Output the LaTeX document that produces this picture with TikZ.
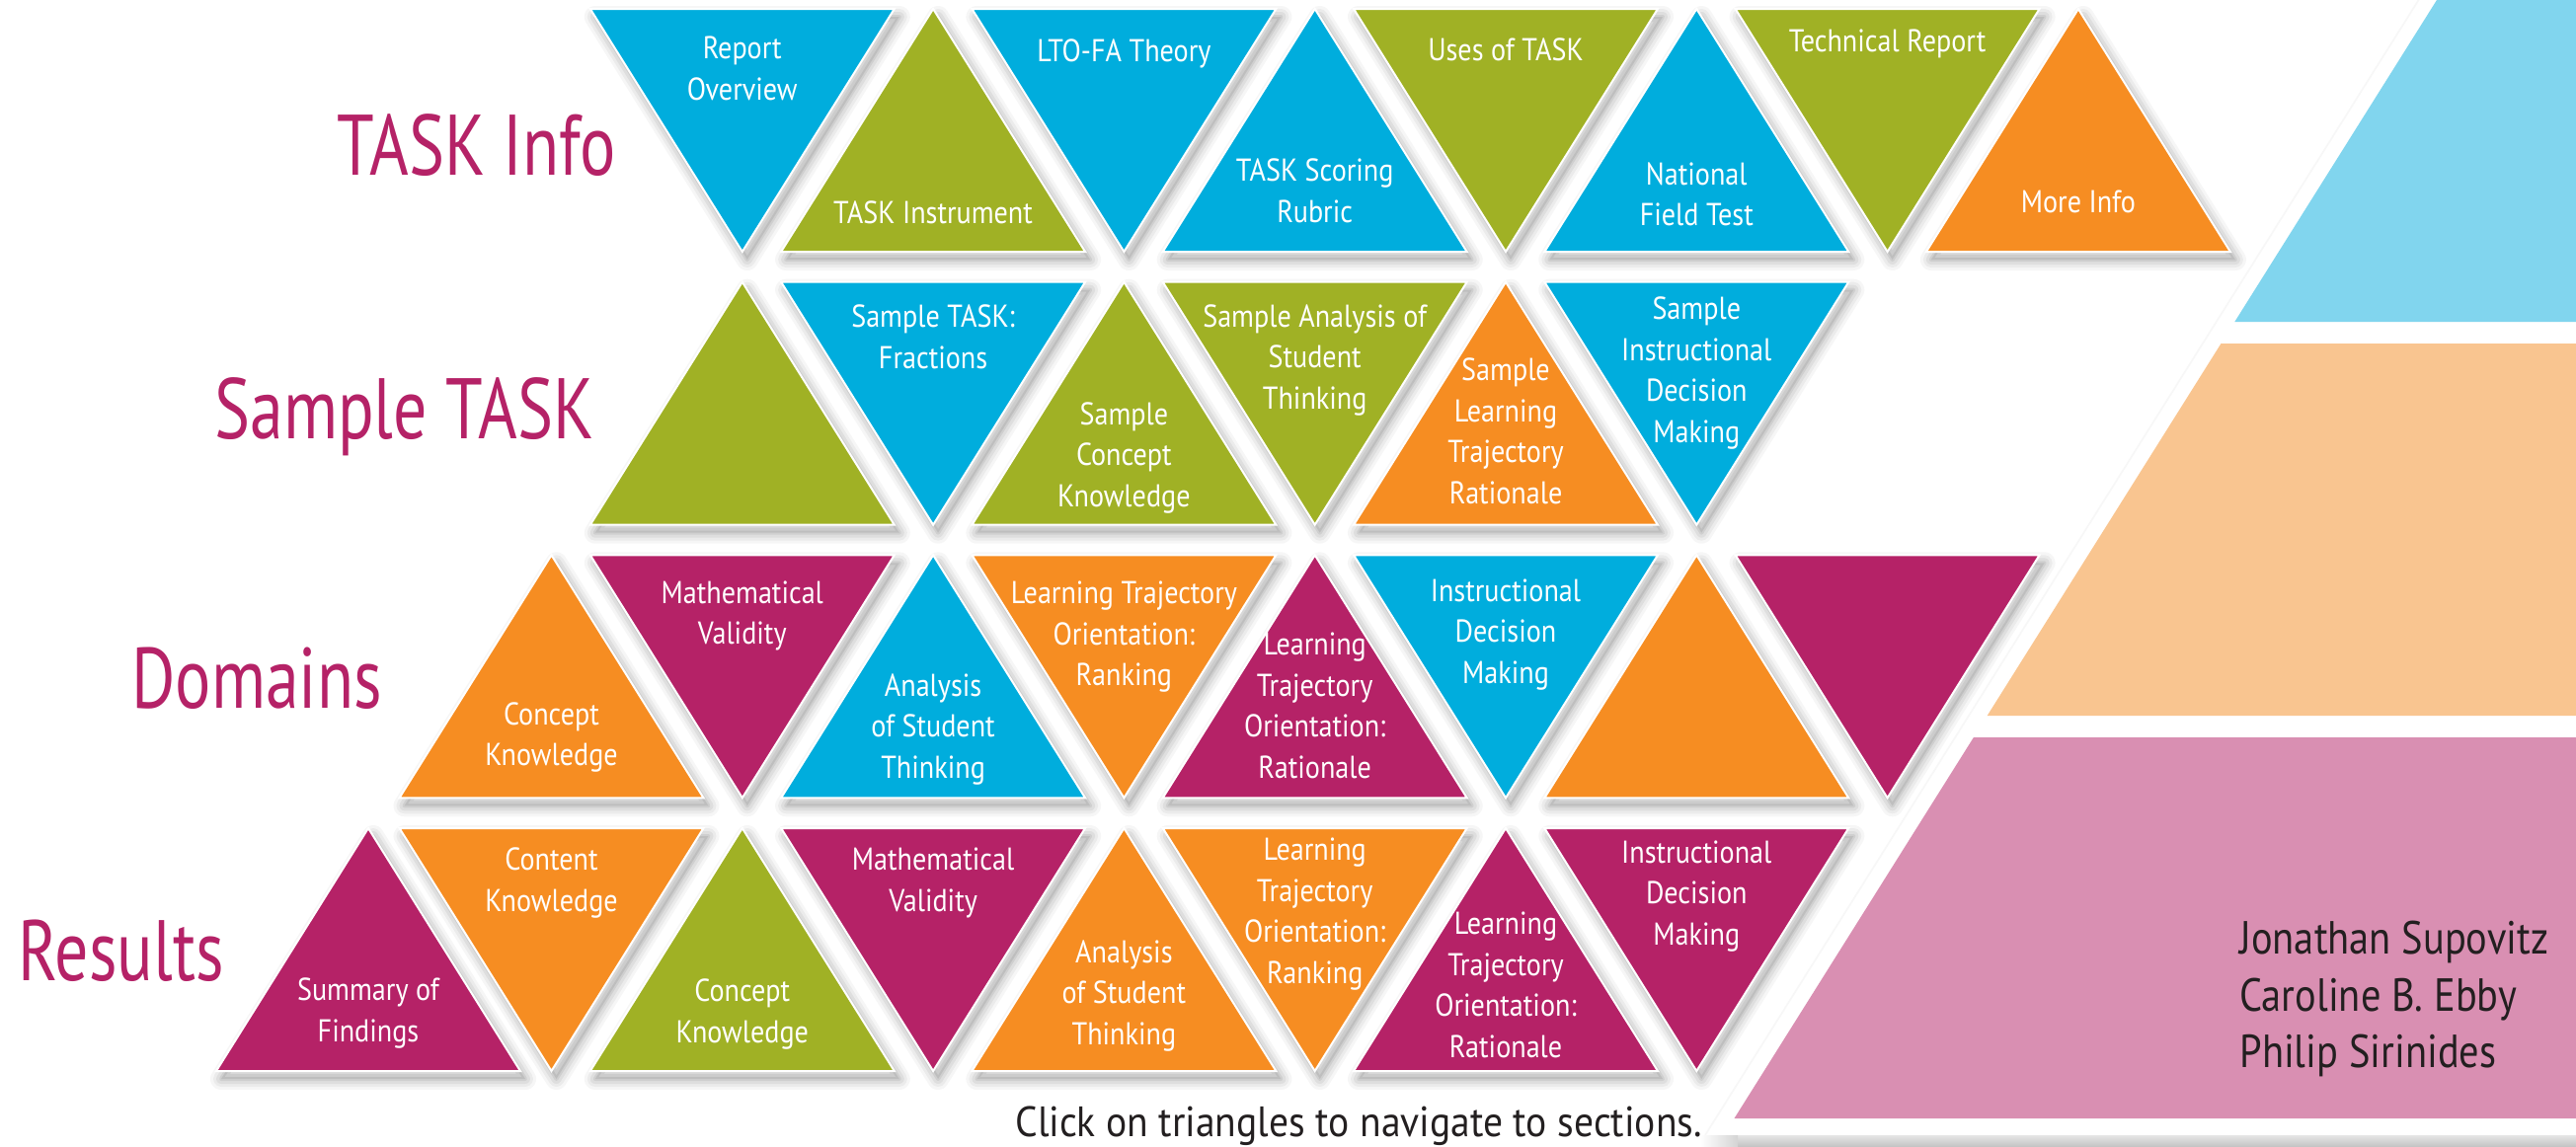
\documentclass[tikz,border=0pt]{standalone}
\usepackage{fontspec}
\setmainfont{PT Sans}
\newfontfamily\trifam[FakeStretch=0.88]{PT Sans}
\newfontfamily\labfam[FakeStretch=0.78]{PT Sans}
\newfontfamily\authfam[FakeStretch=0.86]{PT Sans}
\newfontfamily\clickfam[FakeStretch=0.92]{PT Sans}
\definecolor{cblue}{RGB}{0,173,221}
\definecolor{cgreen}{RGB}{160,177,37}
\definecolor{corange}{RGB}{246,141,34}
\definecolor{cmag}{RGB}{181,34,103}
\definecolor{plblue}{RGB}{129,213,238}
\definecolor{plorange}{RGB}{249,197,144}
\definecolor{plpink}{RGB}{217,143,178}
\definecolor{darktext}{RGB}{35,31,32}
\pgfdeclarelayer{back}
\pgfdeclarelayer{bg}
\pgfsetlayers{back,bg,main}
\tikzset{
  tri/.style={draw=white, line width=1pt, line join=miter},
  tritext/.style={text=white, align=center, inner sep=0pt,
    font=\trifam\fontsize{16}{20.75}\selectfont,
    execute at begin node=\strut, execute at end node=\strut},
  lab/.style={text=cmag, inner sep=0pt, font=\labfam\fontsize{43.5}{50}\selectfont},
  shadowring/.style={draw=black, line join=round, fill=none}
}
% soft shadow of a closed path given as #1 (drawn on the bg layer, shifted)
\newcommand{\SoftShadow}[1]{%
  \begin{pgfonlayer}{bg}
    \begin{scope}[shift={(5,8)}]
      \draw[shadowring, line width=11pt, opacity=0.035] #1;
      \draw[shadowring, line width=8pt, opacity=0.045] #1;
      \draw[shadowring, line width=5pt, opacity=0.055] #1;
      \draw[shadowring, line width=2pt, opacity=0.065] #1;
      \fill[black, opacity=0.08] #1;
    \end{scope}
  \end{pgfonlayer}
}
% #1 name, #2 cx, #3 top, #4 colour, #5 text y, #6 text
\newcommand{\TriUp}[6]{%
  \SoftShadow{(#2,#3) -- ({#2+154},{#3+246}) -- ({#2-154},{#3+246}) -- cycle}
  \filldraw[tri, fill=#4] (#2,#3) -- ({#2+154},{#3+246}) -- ({#2-154},{#3+246}) -- cycle;
  \node[tritext] (#1) at (#2,{#5+3}) {#6};
}
\newcommand{\TriDown}[6]{%
  \SoftShadow{({#2-154},#3) -- ({#2+154},#3) -- (#2,{#3+246}) -- cycle}
  \filldraw[tri, fill=#4] ({#2-154},#3) -- ({#2+154},#3) -- (#2,{#3+246}) -- cycle;
  \node[tritext] (#1) at (#2,{#5+3}) {#6};
}
\newcommand{\TriUpEmpty}[3]{%
  \SoftShadow{(#1,#2) -- ({#1+154},{#2+246}) -- ({#1-154},{#2+246}) -- cycle}
  \filldraw[tri, fill=#3] (#1,#2) -- ({#1+154},{#2+246}) -- ({#1-154},{#2+246}) -- cycle;
}
\newcommand{\TriDownEmpty}[3]{%
  \SoftShadow{({#1-154},#2) -- ({#1+154},#2) -- (#1,{#2+246}) -- cycle}
  \filldraw[tri, fill=#3] ({#1-154},#2) -- ({#1+154},#2) -- (#1,{#2+246}) -- cycle;
}
\begin{document}
\begin{tikzpicture}[x=0.5pt, y=-0.5pt]
\useasboundingbox (0,0) rectangle (2609,1162);
\begin{pgfonlayer}{back}
  \fill[white] (0,0) rectangle (2609,1162);
  % faint edge and bottom shadow of the white card behind the right-hand panels
  \draw[black!3, line width=0.8pt] (1727,1150) -- (2459,-15);
  \shade[top color=black!10, bottom color=black!24] (1738,1150) rectangle (2609,1162);
  \shade[left color=white, right color=black!17] (1722,1150) rectangle (1760,1162);
\end{pgfonlayer}

% right-hand panels
\fill[plblue] (2468,0) -- (2609,0) -- (2609,326) -- (2263.3,326) -- cycle;
\fill[plorange] (2249.5,348) -- (2609,348) -- (2609,725) -- (2012.7,725) -- cycle;
\fill[plpink] (1998.9,747) -- (2609,747) -- (2609,1133) -- (1756.5,1133) -- cycle;

% row labels
\node[lab, anchor=base west] (lInfo) at (341,177) {TASK Info};
\node[lab, anchor=base west] (lSample) at (217,444) {Sample TASK};
\node[lab, anchor=base west] (lDomains) at (133,717) {Domains};
\node[lab, anchor=base west] (lResults) at (18,993) {Results};

% row 1 : TASK Info (top 9)
\TriDown{r1a}{751.8}{9}{cblue}{72.5}{Report\\Overview}
\TriUp{r1b}{945.1}{9}{cgreen}{215.5}{TASK Instrument}
\TriDown{r1c}{1138.4}{9}{cblue}{51}{LTO-FA Theory}
\TriUp{r1d}{1331.7}{9}{cblue}{196.5}{TASK Scoring\\Rubric}
\TriDown{r1e}{1525.0}{9}{cgreen}{50}{Uses of TASK}
\TriUp{r1f}{1718.3}{9}{cblue}{200}{National\\Field Test}
\TriDown{r1g}{1911.6}{9}{cgreen}{41.5}{Technical Report}
\TriUp{r1h}{2104.9}{9}{corange}{204}{More Info}

% row 2 : Sample TASK (top 285.7)
\TriUpEmpty{751.8}{285.7}{cgreen}
\TriDown{r2b}{945.1}{285.7}{cblue}{344.5}{Sample TASK:\\Fractions}
\TriUp{r2c}{1138.4}{285.7}{cgreen}{463.5}{Sample\\Concept\\Knowledge}
\TriDown{r2d}{1331.7}{285.7}{cgreen}{364.5}{Sample Analysis of\\Student\\Thinking}
\TriUp{r2e}{1525.0}{285.7}{corange}{440}{Sample\\Learning\\Trajectory\\Rationale}
\TriDown{r2f}{1718.3}{285.7}{cblue}{378}{Sample\\Instructional\\Decision\\Making}

% row 3 : Domains (top 562.3)
\TriUp{r3a}{558.5}{562.3}{corange}{747}{Concept\\Knowledge}
\TriDown{r3b}{751.8}{562.3}{cmag}{624}{Mathematical\\Validity}
\TriUp{r3c}{945.1}{562.3}{cblue}{738.5}{Analysis\\of Student\\Thinking}
\TriDown{r3d}{1138.4}{562.3}{corange}{645}{Learning Trajectory\\Orientation:\\Ranking}
\TriUp{r3e}{1331.7}{562.3}{cmag}{718}{Learning\\Trajectory\\Orientation:\\Rationale}
\TriDown{r3f}{1525.0}{562.3}{cblue}{642.5}{Instructional\\Decision\\Making}
\TriUpEmpty{1718.3}{562.3}{corange}
\TriDownEmpty{1911.6}{562.3}{cmag}

% row 4 : Results (top 839)
\TriUp{r4a}{373}{839}{cmag}{1026.5}{Summary of\\Findings}
\TriDown{r4b}{558.5}{839}{corange}{894.5}{Content\\Knowledge}
\TriUp{r4c}{751.8}{839}{cgreen}{1027.5}{Concept\\Knowledge}
\TriDown{r4d}{945.1}{839}{cmag}{894.5}{Mathematical\\Validity}
\TriUp{r4e}{1138.4}{839}{corange}{1008.5}{Analysis\\of Student\\Thinking}
\TriDown{r4f}{1331.7}{839}{corange}{926}{Learning\\Trajectory\\Orientation:\\Ranking}
\TriUp{r4g}{1525.0}{839}{cmag}{1001}{Learning\\Trajectory\\Orientation:\\Rationale}
\TriDown{r4h}{1718.3}{839}{cmag}{907.5}{Instructional\\Decision\\Making}

% authors
\node[anchor=north west, inner sep=0pt, align=left, text=darktext,
  font=\authfam\fontsize{23.5}{28.75}\selectfont,
  execute at begin node=\strut, execute at end node=\strut]
  (authors) at (2268,932.75) {Jonathan Supovitz\\Caroline B. Ebby\\Philip Sirinides};

% footer
\node[anchor=base west, inner sep=0pt, text=darktext,
  font=\clickfam\fontsize{21.5}{26}\selectfont]
  (click) at (1028,1151) {Click on triangles to navigate to sections.};
\end{tikzpicture}
\end{document}
